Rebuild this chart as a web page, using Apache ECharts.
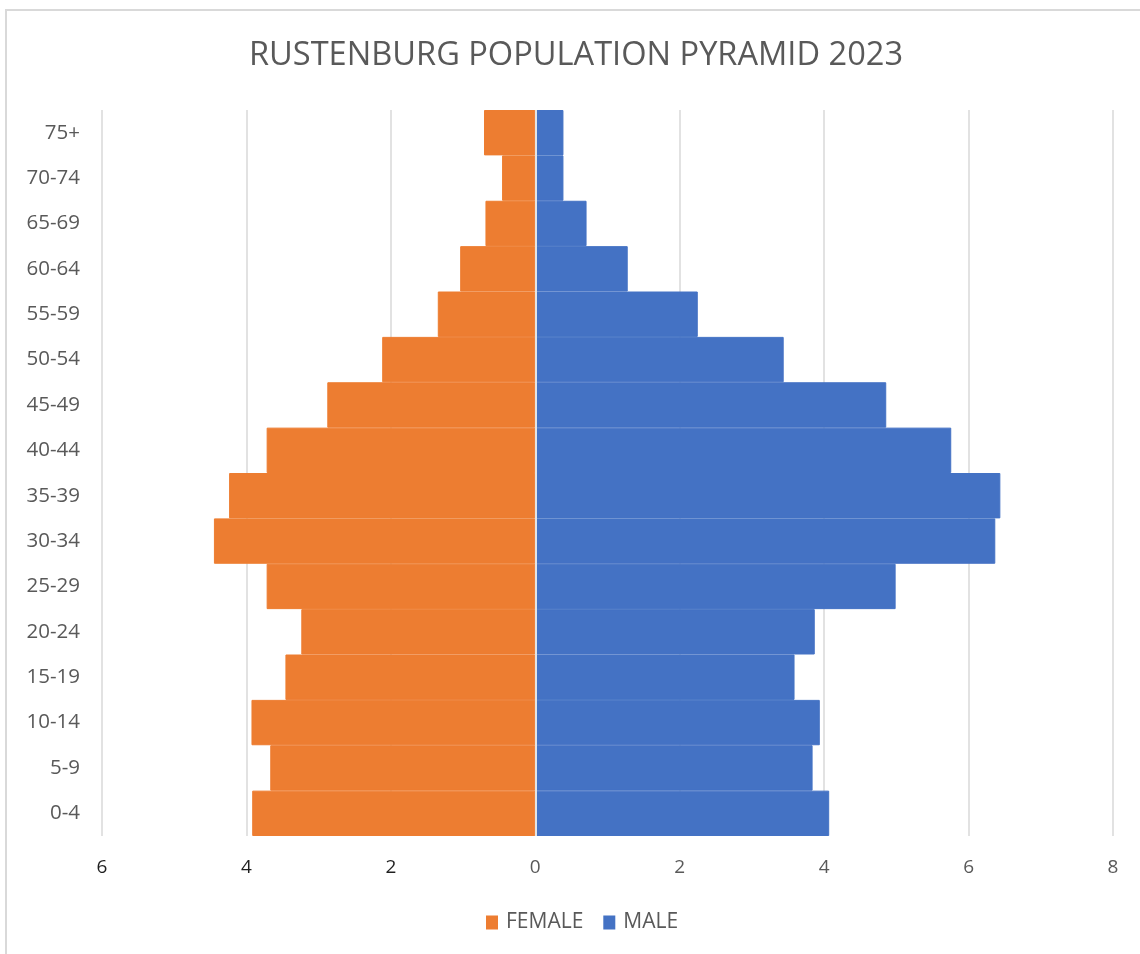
<!DOCTYPE html>
<html>
<head>
<meta charset="utf-8">
<title>Rustenburg Population Pyramid 2023</title>
<script src="https://cdn.jsdelivr.net/npm/echarts@6/dist/echarts.min.js"></script>
<style>
  html, body { margin: 0; padding: 0; background: #ffffff; }
  #chart { width: 1140px; height: 954px; }
</style>
</head>
<body>
<div id="chart"></div>
<script>
// Age groups, youngest at the bottom of the pyramid
const ageGroups = ['0-4', '5-9', '10-14', '15-19', '20-24', '25-29', '30-34', '35-39',
                   '40-44', '45-49', '50-54', '55-59', '60-64', '65-69', '70-74', '75+'];

// Share of the population (%) per age group
const femaleShare = [3.92, 3.67, 3.93, 3.46, 3.24, 3.72, 4.45, 4.24,
                     3.72, 2.88, 2.12, 1.35, 1.04, 0.69, 0.46, 0.71];
const maleShare   = [4.07, 3.84, 3.94, 3.59, 3.87, 4.99, 6.37, 6.44,
                     5.76, 4.86, 3.44, 2.25, 1.28, 0.71, 0.39, 0.39];

const seriesNames = ['FEMALE', 'MALE'];
const chartTitle = 'RUSTENBURG POPULATION PYRAMID 2023';

// Value axis range (female side drawn to the left of zero)
const axisMin = -6;
const axisMax = 8;
const axisStep = 2;

const femaleColor = '#ED7D31';
const maleColor = '#4472C4';

const chart = echarts.init(document.getElementById('chart'));

chart.setOption({
  backgroundColor: '#ffffff',
  animation: false,
  graphic: [
    {
      // chart frame
      type: 'rect',
      shape: { x: 6, y: 10, width: 1300, height: 1100 },
      style: { fill: 'none', stroke: '#d9d9d9', lineWidth: 2 },
      silent: true,
      z: -10
    },
    {
      type: 'text',
      x: 576,
      y: 56,
      silent: true,
      style: {
        text: chartTitle,
        textAlign: 'center',
        textVerticalAlign: 'middle',
        fontFamily: 'Open Sans',
        fontWeight: 'normal',
        fontSize: 32.6,
        fill: '#595959'
      }
    }
  ],
  legend: {
    data: seriesNames,
    left: 481,
    top: 907,
    itemWidth: 10,
    itemHeight: 12,
    itemGap: 20,
    icon: 'rect',
    textStyle: {
      fontFamily: 'Open Sans',
      fontSize: 21,
      color: '#595959',
      padding: [0, 0, 0, 4]
    }
  },
  grid: {
    left: 102,
    right: 27,
    top: 110,
    bottom: 118,
    containLabel: false
  },
  xAxis: {
    type: 'value',
    min: axisMin,
    max: axisMax,
    interval: axisStep,
    axisLine: { show: false },
    axisTick: { show: false },
    splitLine: { show: true, lineStyle: { color: '#d9d9d9', width: 1.5 } },
    axisLabel: {
      margin: 22,
      fontFamily: 'Open Sans',
      fontSize: 19,
      formatter: function (v) {
        return v < 0 ? '{neg|' + Math.abs(v) + '}' : '{pos|' + v + '}';
      },
      rich: {
        neg: { color: '#1f1f1f', fontFamily: 'Open Sans', fontSize: 19 },
        pos: { color: '#595959', fontFamily: 'Open Sans', fontSize: 19 }
      }
    }
  },
  yAxis: {
    type: 'category',
    data: ageGroups,
    axisLine: { show: false, onZero: false },
    axisTick: { show: false },
    splitLine: { show: false },
    axisLabel: {
      margin: 22,
      fontFamily: 'Open Sans',
      fontSize: 20.5,
      color: '#595959'
    }
  },
  series: [
    {
      name: seriesNames[0],
      type: 'bar',
      stack: 'pyramid',
      barCategoryGap: '0%',
      itemStyle: { color: femaleColor, borderColor: femaleColor, borderWidth: 1 },
      data: femaleShare.map(function (v) { return -v; })
    },
    {
      name: seriesNames[1],
      type: 'bar',
      stack: 'pyramid',
      barCategoryGap: '0%',
      itemStyle: { color: maleColor, borderColor: maleColor, borderWidth: 1 },
      data: maleShare,
      markLine: {
        silent: true,
        symbol: 'none',
        label: { show: false },
        lineStyle: { color: '#e4e4e4', width: 2, type: 'solid' },
        data: [{ xAxis: 0 }]
      }
    }
  ]
});
</script>
</body>
</html>
